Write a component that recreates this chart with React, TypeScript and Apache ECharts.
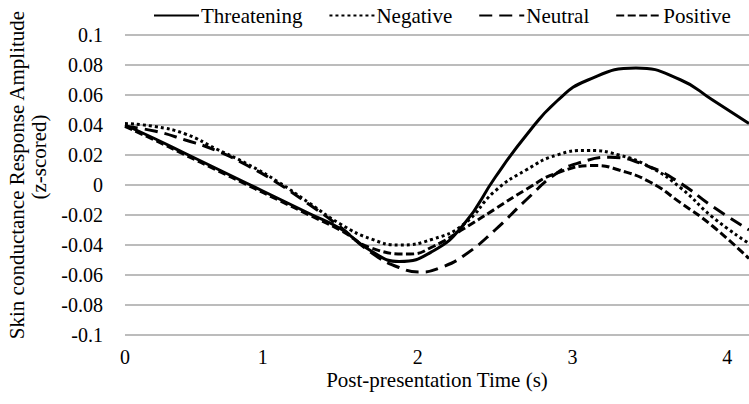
import React, { useEffect, useRef } from "react";
import * as echarts from "echarts";

const seriesNames = ["Threatening", "Negative", "Neutral", "Positive"];

// time (s) and amplitude per condition (extrema included)
const threateningT = [0.11, 0.3, 0.5, 0.7, 0.9, 1.1, 1.3, 1.5, 1.7, 1.88, 2.1, 2.3, 2.5, 2.7, 2.9, 3.1, 3.41, 3.7, 3.9, 4.14];
const threateningV = [0.040, 0.031, 0.021, 0.011, 0.001, -0.009, -0.019, -0.029, -0.044, -0.051, -0.044, -0.026, 0.005, 0.033, 0.056, 0.070, 0.078, 0.070, 0.057, 0.041];

const negativeT = [0.11, 0.3, 0.5, 0.7, 0.9, 1.1, 1.3, 1.5, 1.7, 1.88, 2.1, 2.3, 2.5, 2.7, 2.9, 3.1, 3.3, 3.5, 3.7, 3.9, 4.14];
const negativeV = [0.041, 0.039, 0.034, 0.024, 0.014, 0.002, -0.012, -0.026, -0.036, -0.040, -0.036, -0.026, -0.004, 0.010, 0.020, 0.023, 0.020, 0.012, -0.002, -0.021, -0.039];

const neutralT = [0.11, 0.3, 0.5, 0.7, 0.9, 1.1, 1.3, 1.5, 1.7, 1.88, 2.02, 2.15, 2.3, 2.5, 2.7, 2.9, 3.05, 3.24, 3.5, 3.7, 3.9, 4.14];
const neutralV = [0.039, 0.036, 0.030, 0.023, 0.013, 0.001, -0.013, -0.028, -0.045, -0.055, -0.058, -0.055, -0.047, -0.030, -0.010, 0.008, 0.015, 0.0185, 0.012, 0.001, -0.014, -0.030];

const positiveT = [0.11, 0.3, 0.5, 0.7, 0.9, 1.1, 1.3, 1.5, 1.7, 1.95, 2.1, 2.3, 2.5, 2.7, 2.9, 3.15, 3.3, 3.5, 3.7, 3.9, 4.14];
const positiveV = [0.039, 0.030, 0.020, 0.010, 0.000, -0.010, -0.020, -0.030, -0.042, -0.046, -0.041, -0.029, -0.016, -0.003, 0.008, 0.013, 0.010, 0.002, -0.012, -0.027, -0.049];

const xTickValues = [0.11, 1, 2, 3, 4];
const yTitle = "Skin conductance Response Amplitude";
const yTitle2 = "(z-scored)";
const xTitle = "Post-presentation Time (s)";

const FONT = "'Liberation Serif', 'Times New Roman', serif";

export default function App() {
  const ref = useRef<HTMLDivElement>(null);
  useEffect(() => {
    if (!ref.current) return;
    const chart = echarts.init(ref.current, undefined, { renderer: "svg" });
    const tArrays = [threateningT, negativeT, neutralT, positiveT];
    const vArrays = [threateningV, negativeV, neutralV, positiveV];
    const styles: any[] = [
      { type: "solid", width: 3 },
      { type: [3, 3], width: 3 },
      { type: [13, 7], width: 3 },
      { type: [8, 3.5], width: 3 },
    ];
    chart.setOption({
      animation: false,
      backgroundColor: "#ffffff",
      grid: { left: 125, right: 0, top: 35, bottom: 69, containLabel: false },
      legend: {
        left: 148,
        top: 0,
        itemWidth: 45,
        itemHeight: 14,
        itemGap: 26,
        itemStyle: { opacity: 0 },
        textStyle: { fontFamily: FONT, fontSize: 21, color: "#000", padding: [0, 0, 0, -3] },
        data: seriesNames,
      },
      xAxis: {
        type: "value",
        min: threateningT[0],
        max: threateningT[threateningT.length - 1],
        axisLine: { show: false },
        axisTick: { show: false },
        splitLine: { show: false },
        axisLabel: {
          customValues: xTickValues,
          formatter: (v: number) => String(Math.round(v)),
          fontFamily: FONT,
          fontSize: 20,
          color: "#000",
          margin: 12,
        },
      },
      yAxis: {
        type: "value",
        min: -0.1,
        max: 0.1,
        interval: 0.02,
        axisLine: { show: false },
        axisTick: { show: false },
        splitLine: { show: true, lineStyle: { color: "#a6a6a6", width: 1.5 } },
        axisLabel: {
          formatter: (v: number) => String(+v.toFixed(2)),
          fontFamily: FONT,
          fontSize: 20,
          color: "#000",
          margin: 22,
        },
      },
      graphic: [
        {
          type: "text",
          x: 17,
          y: 175,
          rotation: Math.PI / 2,
          style: { text: yTitle, fontFamily: FONT, fontSize: 21, fill: "#000", align: "center", verticalAlign: "middle" },
        },
        {
          type: "text",
          x: 39,
          y: 157,
          rotation: Math.PI / 2,
          style: { text: yTitle2, fontFamily: FONT, fontSize: 21, fill: "#000", align: "center", verticalAlign: "middle" },
        },
        {
          type: "text",
          x: 437,
          y: 380,
          style: { text: xTitle, fontFamily: FONT, fontSize: 21, fill: "#000", align: "center", verticalAlign: "middle" },
        },
      ],
      series: seriesNames.map((name, i) => ({
        name,
        type: "line",
        smooth: 0.5,
        symbol: "none",
        showSymbol: false,
        lineStyle: { color: "#000", ...styles[i], cap: "butt" },
        itemStyle: { color: "#000" },
        data: tArrays[i].map((t, j) => [t, vArrays[i][j]]),
      })),
    });
    return () => chart.dispose();
  }, []);
  return <div ref={ref} style={{ position: "absolute", left: 0, top: 0, width: 749, height: 404 }} />;
}
